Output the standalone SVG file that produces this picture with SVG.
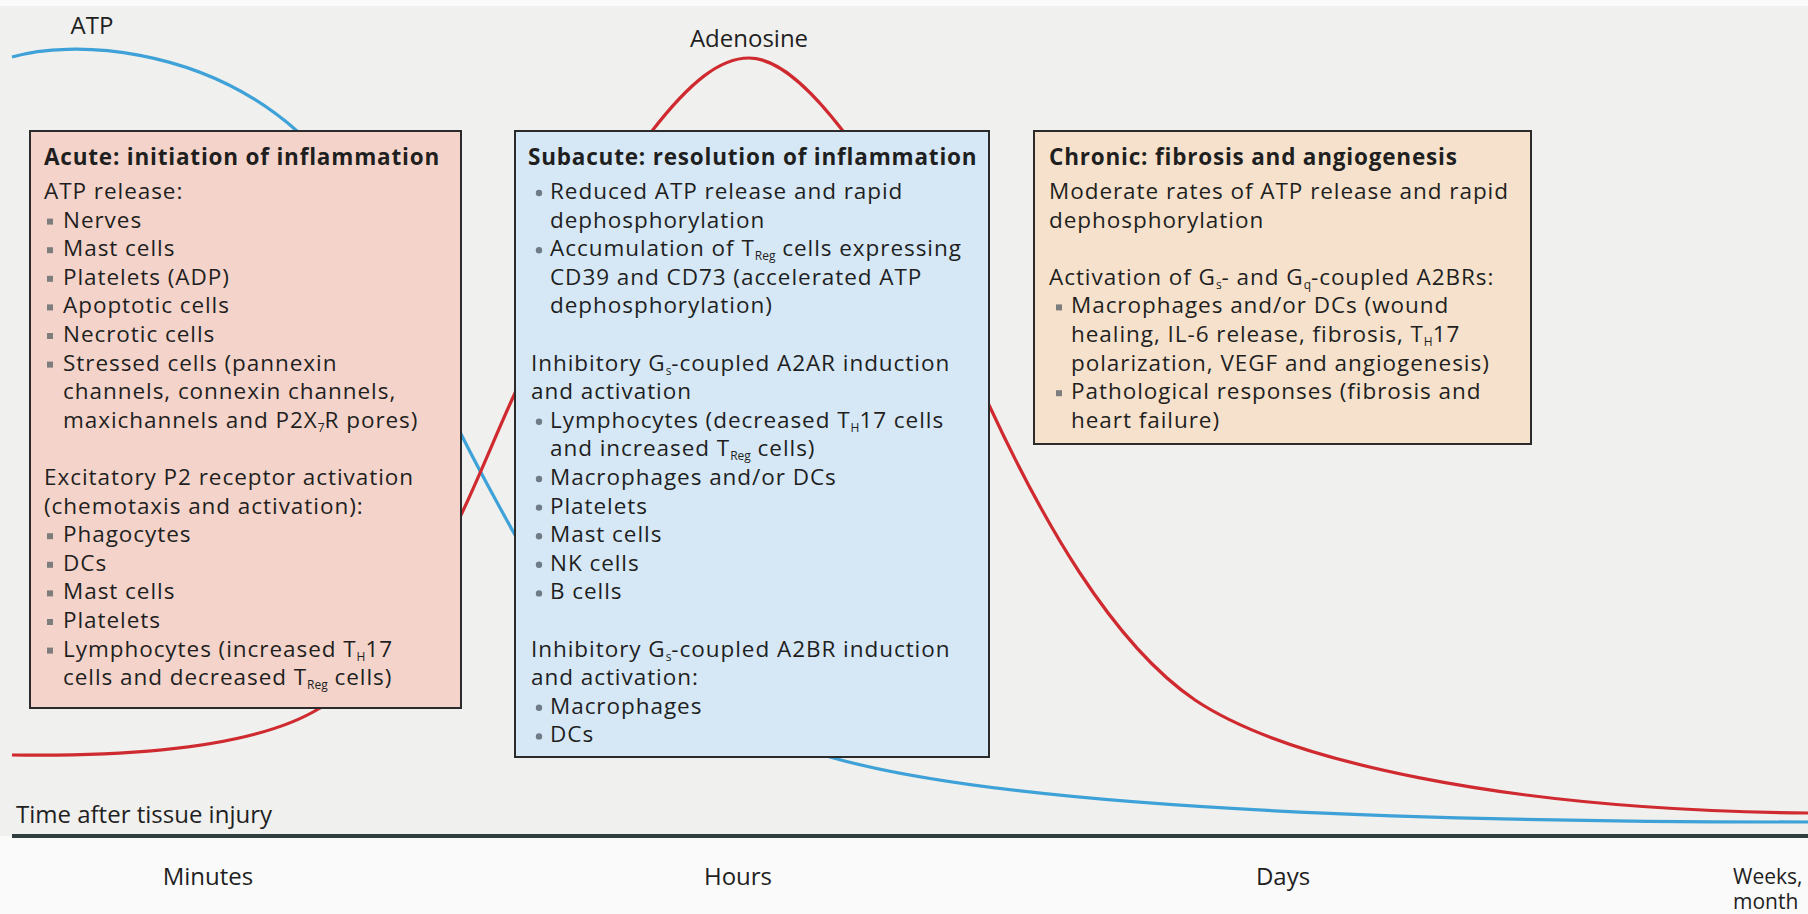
<svg xmlns="http://www.w3.org/2000/svg" width="1808" height="914" viewBox="0 0 1808 914">
<defs>
<style>
.t{font-family:"Open Sans","Liberation Sans",sans-serif;font-size:22.5px;font-weight:500;letter-spacing:0.95px;fill:#1f1f1f}
.b{font-weight:700;letter-spacing:0.8px}
.s{font-size:12px;letter-spacing:0}
.lab{font-family:"Open Sans","Liberation Sans",sans-serif;font-size:24px;fill:#1f1f1f}
.sm{font-size:21px}
.box{stroke:#2b2b2b;stroke-width:2}
.curve{fill:none;stroke-width:3.2}
</style>
<rect id="sq" width="6" height="6" fill="#7d7d7d"/>
<circle id="dot" r="3.2" fill="#6f7b86"/>
</defs>
<rect x="0" y="0" width="1808" height="914" fill="#fafafa"/>
<rect x="0" y="6" width="1808" height="830" fill="#f0f0ee"/>

<g id="connectors">
<path id="atp-curve" class="curve" stroke="#3ea2d8" d="M12 57 C70 40 200 45 297 131 C360 190 420 350 461 434 C480 472 500 508 515 535 C600 680 720 730 830 757 C980 800 1300 822 1808 822"/>
<path id="adenosine-curve" class="curve" stroke="#cf2a2f" d="M12 755 C150 757 260 745 320 708 C390 668 430 580 461 515 C480 475 497 432 515 393 C560 290 600 200 652 131 C690 82 720 58 749 58 C778 58 810 88 843 131 C900 210 950 320 989 405 C1040 515 1110 642 1195 700 C1285 760 1500 810 1808 813"/>
<line id="axis" x1="12" y1="836" x2="1808" y2="836" stroke="#2f3d3f" stroke-width="4"/>
</g>

<g id="label-atp"><text class="lab" x="92" y="34" text-anchor="middle">ATP</text></g>
<g id="label-adenosine"><text class="lab" x="749" y="47" text-anchor="middle">Adenosine</text></g>

<g id="acute">
<rect class="box" x="30" y="131" width="431" height="577" fill="#f4d4ca"/>
<text class="t b" x="44" y="165">Acute: initiation of inflammation</text>
<text class="t" x="44" y="199">ATP release:</text>
<use href="#sq" x="47" y="218.6"/><text class="t" x="63" y="227.6">Nerves</text>
<use href="#sq" x="47" y="247.2"/><text class="t" x="63" y="256.2">Mast cells</text>
<use href="#sq" x="47" y="275.8"/><text class="t" x="63" y="284.8">Platelets (ADP)</text>
<use href="#sq" x="47" y="304.4"/><text class="t" x="63" y="313.4">Apoptotic cells</text>
<use href="#sq" x="47" y="333"/><text class="t" x="63" y="342">Necrotic cells</text>
<use href="#sq" x="47" y="361.6"/><text class="t" x="63" y="370.6">Stressed cells (pannexin</text>
<text class="t" x="63" y="399.2">channels, connexin channels,</text>
<text class="t" x="63" y="427.8">maxichannels and P2X<tspan class="s" dy="4">7</tspan><tspan dy="-4">R pores)</tspan></text>
<text class="t" x="44" y="485">Excitatory P2 receptor activation</text>
<text class="t" x="44" y="513.6">(chemotaxis and activation):</text>
<use href="#sq" x="47" y="533.2"/><text class="t" x="63" y="542.2">Phagocytes</text>
<use href="#sq" x="47" y="561.8"/><text class="t" x="63" y="570.8">DCs</text>
<use href="#sq" x="47" y="590.4"/><text class="t" x="63" y="599.4">Mast cells</text>
<use href="#sq" x="47" y="619"/><text class="t" x="63" y="628">Platelets</text>
<use href="#sq" x="47" y="647.6"/><text class="t" x="63" y="656.6">Lymphocytes (increased T<tspan class="s" dy="4">H</tspan><tspan dy="-4">17</tspan></text>
<text class="t" x="63" y="685.2">cells and decreased T<tspan class="s" dy="4">Reg</tspan><tspan dy="-4"> cells)</tspan></text>
</g>

<g id="subacute">
<rect class="box" x="515" y="131" width="474" height="626" fill="#d6e8f6"/>
<text class="t b" x="528" y="165">Subacute: resolution of inflammation</text>
<use href="#dot" x="539" y="193"/><text class="t" x="550" y="199">Reduced ATP release and rapid</text>
<text class="t" x="550" y="227.6">dephosphorylation</text>
<use href="#dot" x="539" y="250.2"/><text class="t" x="550" y="256.2">Accumulation of T<tspan class="s" dy="4">Reg</tspan><tspan dy="-4"> cells expressing</tspan></text>
<text class="t" x="550" y="284.8">CD39 and CD73 (accelerated ATP</text>
<text class="t" x="550" y="313.4">dephosphorylation)</text>
<text class="t" x="531" y="370.6">Inhibitory G<tspan class="s" dy="4">s</tspan><tspan dy="-4">-coupled A2AR induction</tspan></text>
<text class="t" x="531" y="399.2">and activation</text>
<use href="#dot" x="539" y="421.8"/><text class="t" x="550" y="427.8">Lymphocytes (decreased T<tspan class="s" dy="4">H</tspan><tspan dy="-4">17 cells</tspan></text>
<text class="t" x="550" y="456.4">and increased T<tspan class="s" dy="4">Reg</tspan><tspan dy="-4"> cells)</tspan></text>
<use href="#dot" x="539" y="479"/><text class="t" x="550" y="485">Macrophages and/or DCs</text>
<use href="#dot" x="539" y="507.6"/><text class="t" x="550" y="513.6">Platelets</text>
<use href="#dot" x="539" y="536.2"/><text class="t" x="550" y="542.2">Mast cells</text>
<use href="#dot" x="539" y="564.8"/><text class="t" x="550" y="570.8">NK cells</text>
<use href="#dot" x="539" y="593.4"/><text class="t" x="550" y="599.4">B cells</text>
<text class="t" x="531" y="656.6">Inhibitory G<tspan class="s" dy="4">s</tspan><tspan dy="-4">-coupled A2BR induction</tspan></text>
<text class="t" x="531" y="685.2">and activation:</text>
<use href="#dot" x="539" y="707.8"/><text class="t" x="550" y="713.8">Macrophages</text>
<use href="#dot" x="539" y="736.4"/><text class="t" x="550" y="742.4">DCs</text>
</g>

<g id="chronic">
<rect class="box" x="1034" y="131" width="497" height="313" fill="#f6e2cc"/>
<text class="t b" x="1049" y="165">Chronic: fibrosis and angiogenesis</text>
<text class="t" x="1049" y="199">Moderate rates of ATP release and rapid</text>
<text class="t" x="1049" y="227.6">dephosphorylation</text>
<text class="t" x="1049" y="284.8">Activation of G<tspan class="s" dy="4">s</tspan><tspan dy="-4">- and G</tspan><tspan class="s" dy="4">q</tspan><tspan dy="-4">-coupled A2BRs:</tspan></text>
<use href="#sq" x="1056" y="304.4"/><text class="t" x="1071" y="313.4">Macrophages and/or DCs (wound</text>
<text class="t" x="1071" y="342">healing, IL-6 release, fibrosis, T<tspan class="s" dy="4">H</tspan><tspan dy="-4">17</tspan></text>
<text class="t" x="1071" y="370.6">polarization, VEGF and angiogenesis)</text>
<use href="#sq" x="1056" y="390.2"/><text class="t" x="1071" y="399.2">Pathological responses (fibrosis and</text>
<text class="t" x="1071" y="427.8">heart failure)</text>
</g>

<g id="axis-labels">
<text class="lab" x="16" y="823">Time after tissue injury</text>
<text class="lab" x="208" y="885" text-anchor="middle">Minutes</text>
<text class="lab" x="738" y="885" text-anchor="middle">Hours</text>
<text class="lab" x="1283" y="885" text-anchor="middle">Days</text>
<text class="lab sm" x="1733" y="884">Weeks,</text>
<text class="lab sm" x="1733" y="909">month</text>
</g>
</svg>
